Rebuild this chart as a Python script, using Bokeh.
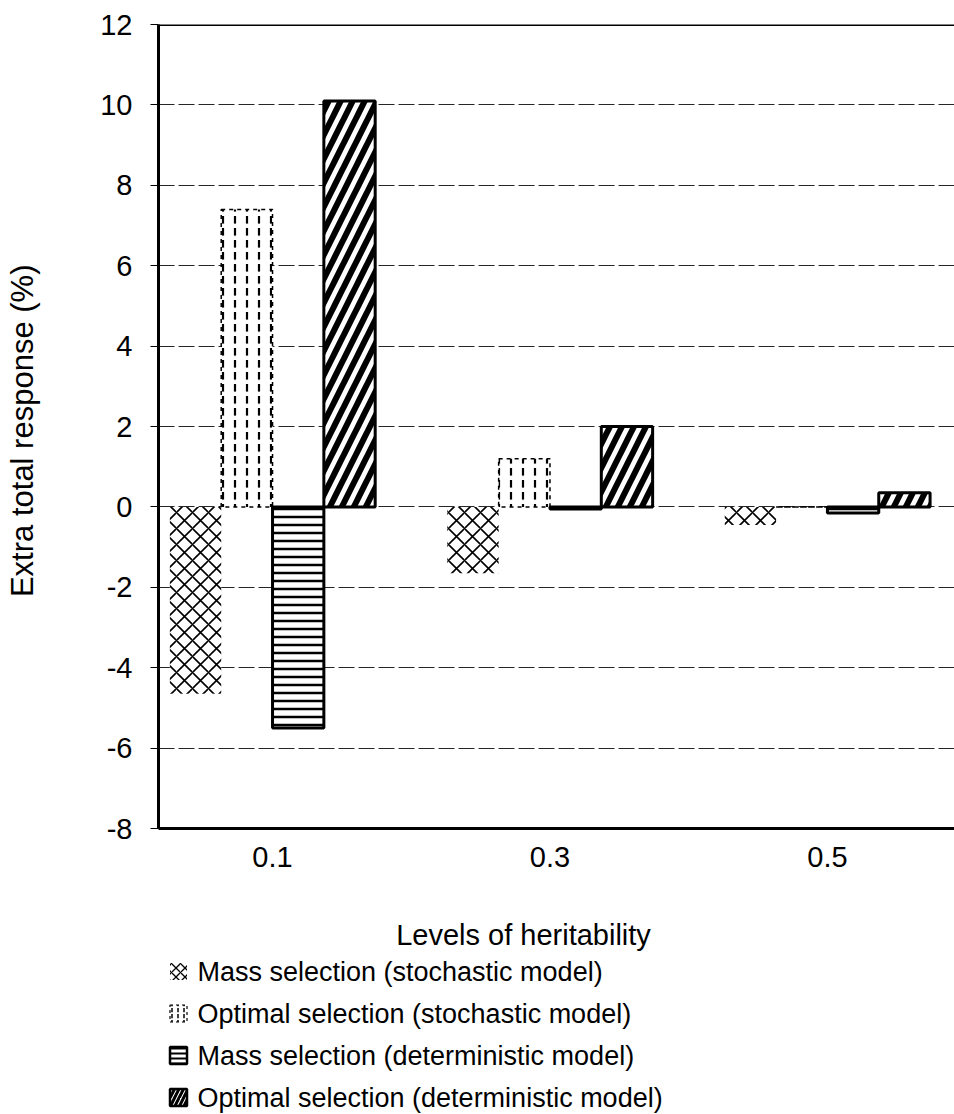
from bokeh.plotting import figure
from bokeh.layouts import column
from bokeh.models import Range1d, Span, FixedTicker, ColumnDataSource
from bokeh.core.properties import value
from bokeh.embed import file_html
from bokeh.resources import INLINE

# ---- data ----
heritability = ["0.1", "0.3", "0.5"]
mass_stochastic = [-4.65, -1.65, -0.45]
optimal_stochastic = [7.4, 1.2, 0.0]
mass_deterministic = [-5.5, -0.05, -0.15]
optimal_deterministic = [10.1, 2.0, 0.35]
series_names = [
    "Mass selection (stochastic model)",
    "Optimal selection (stochastic model)",
    "Mass selection (deterministic model)",
    "Optimal selection (deterministic model)",
]
x_title = "Levels of heritability"
y_title = "Extra  total response (%)"
y_ticks = [-8, -6, -4, -2, 0, 2, 4, 6, 8, 10, 12]
y_tick_labels = ["-8", "-6", "-4", "-2", "0", "2", "4", "6", "8", "10", "12"]

FONT = "Liberation Sans"
pos = [i + 1 for i in range(len(heritability))]
bar_w = 0.185

p = figure(width=954, height=900,
           x_range=Range1d(0.589, 3.458), y_range=Range1d(-8, 12),
           output_backend="svg", toolbar_location=None,
           min_border_left=158, min_border_right=0,
           min_border_top=24, min_border_bottom=72)
p.outline_line_color = None
p.background_fill_color = "white"
p.border_fill_color = "white"

# axes
p.yaxis.ticker = FixedTicker(ticks=y_ticks)
p.yaxis.major_label_overrides = {t: s for t, s in zip(y_ticks, y_tick_labels)}
p.yaxis.axis_line_width = 3
p.yaxis.major_tick_out = 8
p.yaxis.major_tick_in = 0
p.yaxis.minor_tick_line_color = None
p.yaxis.major_label_text_font = FONT
p.yaxis.major_label_text_font_size = "29px"
p.yaxis.major_label_text_color = "black"
p.yaxis.major_label_standoff = 18
p.yaxis.axis_label = y_title
p.yaxis.axis_label_text_font = FONT
p.yaxis.axis_label_text_font_size = "31px"
p.yaxis.axis_label_text_font_style = "normal"
p.yaxis.axis_label_text_color = "black"
p.yaxis.axis_label_standoff = 57

p.xaxis.ticker = FixedTicker(ticks=pos)
p.xaxis.major_label_overrides = {x: lab for x, lab in zip(pos, heritability)}
p.xaxis.axis_line_width = 3
p.xaxis.major_tick_out = 0
p.xaxis.major_tick_in = 0
p.xaxis.minor_tick_line_color = None
p.xaxis.major_label_text_font = FONT
p.xaxis.major_label_text_font_size = "29px"
p.xaxis.major_label_text_color = "black"
p.xaxis.major_label_standoff = 18

p.xgrid.visible = False
p.ygrid.grid_line_color = "black"
p.ygrid.grid_line_width = 1
p.ygrid.grid_line_dash = "16 4"
p.ygrid.grid_line_alpha = 0.85

p.add_layout(Span(location=12, dimension="width", line_color="black", line_width=3))

series = [mass_stochastic, optimal_stochastic, mass_deterministic, optimal_deterministic]
styles = [
    dict(hatch_pattern="diagonal_cross", hatch_scale=16, hatch_weight=1.6,
         line_color=None),
    dict(hatch_pattern="vertical_dash", hatch_scale=12, hatch_weight=2.2,
         line_color="black", line_width=1.5, line_dash="4 4"),
    dict(hatch_pattern="horizontal_line", hatch_scale=8, hatch_weight=2.5,
         line_color="black", line_width=3),
    dict(hatch_pattern="right_diagonal_line", hatch_scale=24, hatch_weight=6,
         line_color="black", line_width=3),
]
icon_styles = [
    dict(hatch_pattern="diagonal_cross", hatch_scale=9, hatch_weight=1.3,
         line_color=None),
    dict(hatch_pattern="vertical_dash", hatch_scale=6, hatch_weight=1.5,
         line_color="black", line_width=1.2, line_dash="3 3"),
    dict(hatch_pattern="horizontal_line", hatch_scale=5, hatch_weight=2,
         line_color="black", line_width=2.5),
    dict(hatch_pattern="right_diagonal_line", hatch_scale=9, hatch_weight=3,
         line_color="black", line_width=2.5),
]
offsets = [-1.5, -0.5, 0.5, 1.5]

for vals, st, off in zip(series, styles, offsets):
    src = ColumnDataSource(dict(x=[x + off * bar_w for x in pos], top=vals))
    p.vbar(x="x", top="top", bottom=0, width=bar_w, source=src,
           fill_color="white", hatch_color="black", **st)

# ---- x title + legend panel below the chart (data units = page pixels) ----
q = figure(width=954, height=214,
           x_range=Range1d(158, 954), y_range=Range1d(1114, 900),
           output_backend="svg", toolbar_location=None,
           x_axis_type=None, y_axis_type=None,
           min_border_left=158, min_border_right=0, min_border_top=0, min_border_bottom=0)
q.outline_line_color = None
q.grid.visible = False
q.background_fill_color = "white"
q.border_fill_color = "white"

q.text(x=[523], y=[934], text=[x_title], text_font=value(FONT),
       text_font_size="29px", text_baseline="middle", text_align="center",
       text_color="black")

row_y = [971, 1013, 1055, 1097]
for name, st, ry in zip(series_names, icon_styles, row_y):
    q.rect(x=[178], y=[ry], width=[17], height=[17],
           fill_color="white", hatch_color="black", **st)
    q.text(x=[197], y=[ry], text=[name], text_font=value(FONT),
           text_font_size="27px", text_baseline="middle", text_align="left",
           text_color="black")

layout = column(p, q, spacing=0)
open("out.html", "w").write(file_html(layout, INLINE))
